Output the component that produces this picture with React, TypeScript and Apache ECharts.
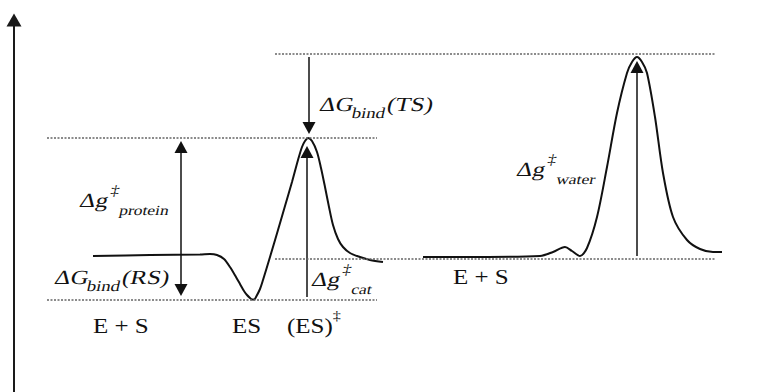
import React, { useEffect, useRef } from "react";
import * as echarts from "echarts";

// Reaction coordinate (x) and free energy (E)
const proteinCurve: [number, number][] = [
  [93, 136], [150, 137], [200, 137.5], [210, 138], [217, 137], [224, 133], [230, 125],
  [236, 115], [240, 108], [244, 101], [247, 97], [250, 94], [252, 92.5], [254, 92.5],
  [256, 95], [260, 103], [263, 112], [270, 135], [278, 162], [285, 186], [292, 210],
  [298, 232], [302, 245], [305, 251], [308, 254], [312, 251], [317, 240], [321, 224],
  [325, 205], [329, 185], [333, 167], [338, 153], [343, 145], [350, 139], [360, 135],
  [370, 132], [383, 130],
];

const waterCurve: [number, number][] = [
  [423, 135], [480, 135], [540, 136], [553, 140], [565, 145], [572, 141], [580, 136],
  [587, 144], [597, 175], [607, 225], [617, 279], [627, 319], [632, 330], [637, 335],
  [642, 330], [647, 319], [655, 275], [663, 219], [673, 175], [687, 152], [700, 143],
  [713, 140], [722, 140],
];

// Dotted reference levels: energy, start, end
const levelE = [338, 254, 133, 92];
const levelFrom = [275, 47, 275, 47];
const levelTo = [715, 377, 715, 377];

// Arrows: x, start energy, end energy, double headed?
const arrowX = [181, 309, 307, 637];
const arrowFrom = [102, 335, 95, 136];
const arrowTo = [245, 264, 240, 325];
const arrowBoth = [true, false, false, false];

// Text labels
const labelTexts = [
  "{i|ΔG}{b|bind}{i|(TS)}",
  "{i|Δg}{p|‡}{s| protein}",
  "{i|ΔG}{b|bind}{i|(RS)}",
  "{i|Δg}{p|‡}{s| cat}",
  "{i|Δg}{p|‡}{s| water}",
  "{n|E + S}",
  "{n|ES}",
  "{n|(ES)}{q|‡}",
  "{n|E + S}",
];
const labelX = [320, 80, 55, 312, 517, 93, 232, 287, 453];
const labelY = [104, 200, 277, 279, 169, 326, 326, 326, 277];
const labelSlanted = [true, true, true, true, true, false, false, false, false];

const FONT = "'Liberation Serif', 'Times New Roman', serif";

export default function App() {
  const ref = useRef<HTMLDivElement>(null);
  useEffect(() => {
    if (!ref.current) return;
    const chart = echarts.init(ref.current, null, { renderer: "svg" });
    const rich = {
      i: { fontFamily: FONT, fontSize: 20, lineHeight: 34, verticalAlign: "middle", color: "#111" },
      b: { fontFamily: FONT, fontSize: 15, lineHeight: 28, verticalAlign: "bottom", color: "#111" },
      s: { fontFamily: FONT, fontSize: 14, lineHeight: 24, verticalAlign: "bottom", color: "#111" },
      p: { fontFamily: FONT, fontSize: 14, lineHeight: 12, verticalAlign: "top", color: "#111" },
      n: { fontFamily: FONT, fontSize: 20, lineHeight: 34, verticalAlign: "middle", color: "#111" },
      q: { fontFamily: FONT, fontSize: 13, lineHeight: 12, verticalAlign: "top", color: "#111" },
    };
    const dotted = { color: "#666", width: 1.5, type: [2, 1.5] as any };
    const option: any = {
      animation: false,
      backgroundColor: "#fff",
      grid: { left: 14, right: 0, top: 20, bottom: 0, containLabel: false },
      xAxis: { type: "value", min: 14, max: 760, show: false },
      yAxis: {
        type: "value",
        min: 0,
        max: 372,
        axisLine: {
          show: true,
          onZero: false,
          symbol: ["none", "triangle"],
          symbolSize: [15, 13],
          lineStyle: { color: "#1a1a1a", width: 2 },
        },
        axisTick: { show: false },
        axisLabel: { show: false },
        splitLine: { show: false },
      },
      series: [
        {
          type: "line",
          data: proteinCurve,
          smooth: 0.3,
          symbol: "none",
          silent: true,
          z: 3,
          lineStyle: { color: "#111", width: 2 },
          markLine: {
            silent: true,
            animation: false,
            symbol: ["none", "triangle"],
            symbolSize: [13, 12],
            label: { show: false },
            emphasis: { disabled: true },
            lineStyle: { color: "#111", width: 1.5, type: "solid" },
            data: arrowX.map((x, k) => [
              { coord: [x, arrowFrom[k]], symbol: arrowBoth[k] ? "triangle" : "none" },
              { coord: [x, arrowTo[k]], symbol: "triangle" },
            ]),
          },
        },
        {
          type: "line",
          data: waterCurve,
          smooth: 0.3,
          symbol: "none",
          silent: true,
          z: 3,
          lineStyle: { color: "#111", width: 2 },
          markLine: {
            silent: true,
            animation: false,
            symbol: ["none", "none"],
            label: { show: false },
            emphasis: { disabled: true },
            lineStyle: dotted,
            data: levelE.map((e, k) => [
              { coord: [levelFrom[k], e] },
              { coord: [levelTo[k], e] },
            ]),
          },
        },
      ],
      graphic: labelTexts.map((t, k) => ({
        type: "text",
        x: labelX[k],
        y: labelY[k],
        scaleX: 1.25,
        skewX: labelSlanted[k] ? -0.22 : 0,
        silent: true,
        style: {
          text: t,
          rich,
          align: "left",
          verticalAlign: "middle",
          fill: "#111",
        },
      })),
    };
    chart.setOption(option);
    return () => chart.dispose();
  }, []);
  return (
    <div
      ref={ref}
      style={{ position: "fixed", left: 0, top: 0, width: 760, height: 392, background: "#fff" }}
    />
  );
}
